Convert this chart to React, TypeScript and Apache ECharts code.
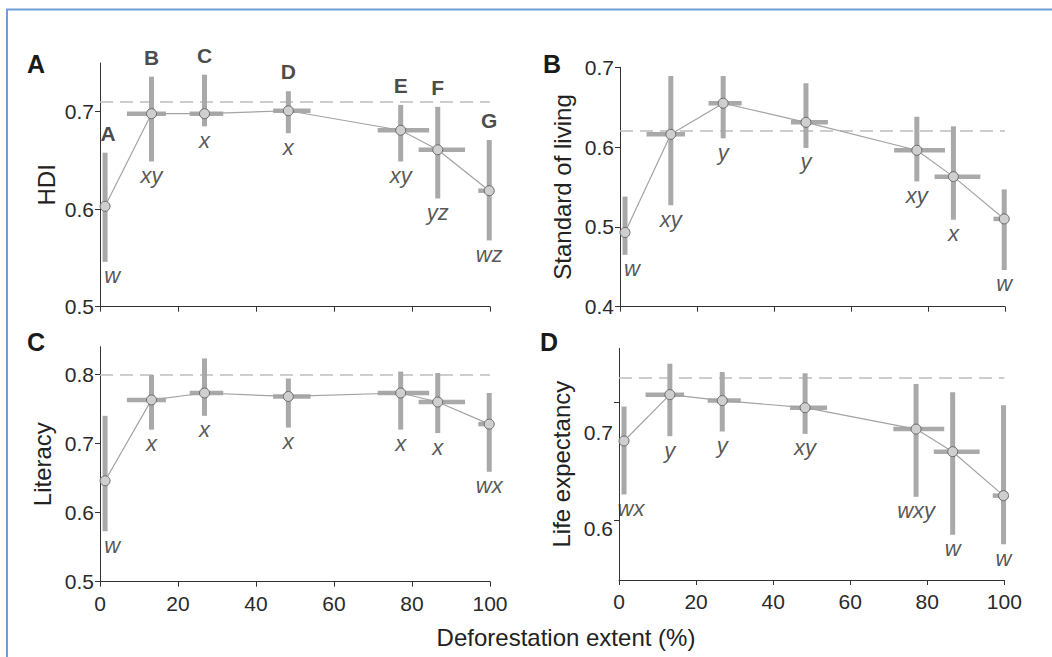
import React, { useEffect, useRef } from 'react';
import * as echarts from 'echarts';

// Deforestation classes (x = mean deforestation extent, %)
const classes = ['A', 'B', 'C', 'D', 'E', 'F', 'G'];
const xs = [1.3, 13.2, 26.8, 48.3, 77.1, 86.6, 99.8];
const xLow = [null, 6.9, 23.0, 44.4, 71.2, 81.7, 97.0];
const xHigh = [null, 16.9, 31.6, 54.0, 84.4, 93.6, 100];
const xTicks = [0, 20, 40, 60, 80, 100];

// A: HDI
const hdiMean = [0.603, 0.698, 0.698, 0.701, 0.681, 0.661, 0.619];
const hdiLow = [0.546, 0.649, 0.685, 0.678, 0.649, 0.611, 0.568];
const hdiHigh = [0.658, 0.736, 0.738, 0.721, 0.707, 0.705, 0.671];
const hdiRef = 0.713;
const hdiSig = ['w', 'xy', 'x', 'x', 'xy', 'yz', 'wz'];
const hdiTicks = [0.5, 0.6, 0.7];

// B: Standard of living
const livMean = [0.493, 0.616, 0.655, 0.631, 0.596, 0.563, 0.51];
const livLow = [0.465, 0.527, 0.611, 0.599, 0.557, 0.509, 0.446];
const livHigh = [0.538, 0.689, 0.689, 0.68, 0.638, 0.626, 0.547];
const livRef = 0.618;
const livSig = ['w', 'xy', 'y', 'y', 'xy', 'x', 'w'];
const livTicks = [0.4, 0.5, 0.6, 0.7];

// C: Literacy
const litMean = [0.646, 0.763, 0.773, 0.768, 0.773, 0.76, 0.728];
const litLow = [0.573, 0.72, 0.74, 0.723, 0.72, 0.715, 0.659];
const litHigh = [0.74, 0.799, 0.823, 0.794, 0.804, 0.802, 0.773];
const litRef = 0.8;
const litSig = ['w', 'x', 'x', 'x', 'x', 'x', 'wx'];
const litTicks = [0.5, 0.6, 0.7, 0.8];

// D: Life expectancy
const lifeMean = [0.667, 0.706, 0.701, 0.695, 0.677, 0.658, 0.621];
const lifeLow = [0.622, 0.671, 0.675, 0.673, 0.62, 0.588, 0.58];
const lifeHigh = [0.696, 0.732, 0.725, 0.724, 0.715, 0.708, 0.697];
const lifeRef = 0.722;
const lifeSig = ['wx', 'y', 'y', 'xy', 'wxy', 'w', 'w'];
const lifeTicks = [0.6, 0.7];

const FONT = '"Liberation Sans", Arial, Helvetica, sans-serif';
const TXT = '#2a2a2a';
const BAR = '#a9a9a9';

const panels = [
  { tag: 'A', name: 'HDI', mean: hdiMean, lo: hdiLow, hi: hdiHigh, ref: hdiRef, sig: hdiSig, ticks: hdiTicks,
    yMin: 0.5, yMax: 0.75, grid: { left: 100, top: 63, width: 390, height: 243.7 }, nameGap: 42,
    xLabels: false, letters: true, tagPos: [36, 64] },
  { tag: 'B', name: 'Standard of living', mean: livMean, lo: livLow, hi: livHigh, ref: livRef, sig: livSig, ticks: livTicks,
    yMin: 0.4, yMax: 0.7, grid: { left: 620, top: 67.3, width: 385, height: 239.4 }, nameGap: 46,
    xLabels: false, letters: false, tagPos: [552, 64] },
  { tag: 'C', name: 'Literacy', mean: litMean, lo: litLow, hi: litHigh, ref: litRef, sig: litSig, ticks: litTicks,
    yMin: 0.5, yMax: 0.84, grid: { left: 100, top: 346.7, width: 390, height: 235 }, nameGap: 46,
    xLabels: true, letters: false, tagPos: [36, 342] },
  { tag: 'D', name: 'Life expectancy', mean: lifeMean, lo: lifeLow, hi: lifeHigh, ref: lifeRef, sig: lifeSig, ticks: lifeTicks,
    yMin: 0.55, yMax: 0.745, grid: { left: 619, top: 348.3, width: 385.3, height: 231.7 }, nameGap: 46,
    xLabels: true, letters: false, tagPos: [549, 342], shiftLabels: true },
];

function buildOption() {
  const grid: any[] = [];
  const xAxis: any[] = [];
  const yAxis: any[] = [];
  const series: any[] = [];
  const graphic: any[] = [];

  panels.forEach((p, i) => {
    grid.push({ ...p.grid, containLabel: false });
    xAxis.push({
      type: 'value', gridIndex: i, min: 0, max: 100, interval: 20,
      axisLine: { onZero: false, lineStyle: { color: '#333', width: 1 } },
      axisTick: { show: true, length: 5, lineStyle: { color: '#333' }, customValues: xTicks },
      axisLabel: { show: p.xLabels, color: TXT, fontSize: 21, fontFamily: FONT, margin: 11, customValues: xTicks },
      splitLine: { show: false },
    });
    const yLabel: any = {
      color: TXT, fontSize: 21, fontFamily: FONT, margin: 6, customValues: p.ticks,
      formatter: (v: number) => v.toFixed(1),
    };
    if (p.shiftLabels) {
      yLabel.formatter = (v: number) => (v > 0.65 ? '{a|' + v.toFixed(1) + '}' : '{b|' + v.toFixed(1) + '}');
      yLabel.rich = {
        a: { fontSize: 21, fontFamily: FONT, color: TXT, padding: [61, 0, 0, 0] },
        b: { fontSize: 21, fontFamily: FONT, color: TXT, padding: [16, 0, 0, 0] },
      };
    }
    yAxis.push({
      type: 'value', gridIndex: i, min: p.yMin, max: p.yMax,
      name: p.name, nameLocation: 'middle', nameGap: p.nameGap, nameRotate: 90,
      nameTextStyle: { color: '#222', fontSize: 24, fontFamily: FONT },
      axisLine: { show: true, lineStyle: { color: '#333', width: 1 } },
      axisTick: { show: true, length: 5, lineStyle: { color: '#333' }, customValues: p.ticks },
      axisLabel: yLabel,
      splitLine: { show: false },
    });

    const barData = xs.map((x, k) => [x, p.mean[k], p.lo[k], p.hi[k], xLow[k] ?? x, xHigh[k] ?? x]);
    series.push({
      type: 'custom', xAxisIndex: i, yAxisIndex: i, z: 2,
      encode: { x: 0, y: 1 },
      data: barData,
      renderItem: (params: any, api: any) => {
        const x = api.value(0), y = api.value(1), lo = api.value(2), hi = api.value(3);
        const xl = api.value(4), xh = api.value(5);
        const a = api.coord([x, lo]);
        const b = api.coord([x, hi]);
        const c = api.coord([xl, y]);
        const d = api.coord([xh, y]);
        const children: any[] = [
          { type: 'line', shape: { x1: a[0], y1: a[1], x2: b[0], y2: b[1] }, style: { stroke: BAR, lineWidth: 5 } },
        ];
        if (xh > xl) {
          children.push({ type: 'line', shape: { x1: c[0], y1: c[1], x2: d[0], y2: d[1] }, style: { stroke: BAR, lineWidth: 4.5 } });
        }
        return { type: 'group', children };
      },
      silent: true,
    });

    series.push({
      type: 'line', xAxisIndex: i, yAxisIndex: i, z: 5,
      data: xs.map((x, k) => [x, p.mean[k]]),
      symbol: 'circle', symbolSize: 10,
      itemStyle: { color: '#cfcfcf', borderColor: '#6a6a6a', borderWidth: 1 },
      lineStyle: { color: '#a3a3a3', width: 1.2 },
      markLine: {
        silent: true, symbol: 'none', animation: false,
        label: { show: false },
        lineStyle: { color: '#bdbdbd', type: [13, 7], width: 1.5 },
        data: [{ yAxis: p.ref }],
        z: 1,
      },
    });

    series.push({
      type: 'scatter', xAxisIndex: i, yAxisIndex: i, z: 6, symbolSize: 0,
      itemStyle: { color: 'rgba(0,0,0,0)' },
      data: xs.map((x, k) => ({
        value: [x, p.lo[k]], name: p.sig[k],
        label: k === 0 ? { offset: [7, 0] } : undefined,
      })),
      label: {
        show: true, position: 'bottom', distance: 3, formatter: '{b}',
        fontSize: 22, fontStyle: 'italic', fontFamily: FONT, color: TXT,
      },
      silent: true,
    });

    if (p.letters) {
      series.push({
        type: 'scatter', xAxisIndex: i, yAxisIndex: i, z: 6, symbolSize: 0,
        itemStyle: { color: 'rgba(0,0,0,0)' },
        data: xs.map((x, k) => ({
          value: [x, p.hi[k]], name: classes[k],
          label: k === 0 ? { offset: [3, 0] } : undefined,
        })),
        label: {
          show: true, position: 'top', distance: 9, formatter: '{b}',
          fontSize: 21, fontWeight: 'bold', fontFamily: FONT, color: '#1a1a1a',
        },
        silent: true,
      });
    }

    graphic.push({
      type: 'text', x: p.tagPos[0], y: p.tagPos[1],
      style: { text: p.tag, fontSize: 25, fontWeight: 'bold', fontFamily: FONT, fill: '#1a1a1a', align: 'center', verticalAlign: 'middle' },
    });
  });

  graphic.push({
    type: 'text', x: 566, y: 637,
    style: { text: 'Deforestation extent (%)', fontSize: 24, fontFamily: FONT, fill: '#222', align: 'center', verticalAlign: 'middle' },
  });
  graphic.push({ type: 'line', shape: { x1: 6, y1: 9.5, x2: 1052, y2: 9.5 }, style: { stroke: '#6d9fd6', lineWidth: 2 } });
  graphic.push({ type: 'line', shape: { x1: 7, y1: 9, x2: 7, y2: 657 }, style: { stroke: '#6d9fd6', lineWidth: 2 } });

  return {
    animation: false,
    backgroundColor: '#ffffff',
    grid, xAxis, yAxis, series, graphic,
  };
}

export default function App() {
  const ref = useRef<HTMLDivElement>(null);
  useEffect(() => {
    if (!ref.current) return;
    const chart = echarts.init(ref.current, undefined, { renderer: 'svg' });
    chart.setOption(buildOption() as any);
    return () => chart.dispose();
  }, []);
  return (
    <div
      ref={ref}
      style={{ position: 'fixed', left: 0, top: 0, width: 1052, height: 657, background: '#fff' }}
    />
  );
}
